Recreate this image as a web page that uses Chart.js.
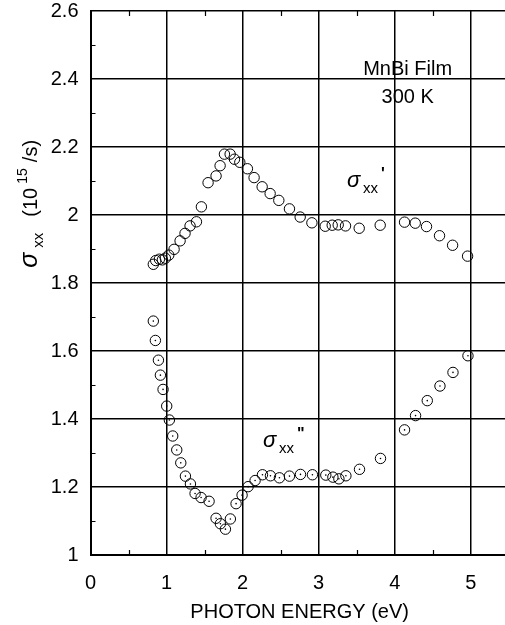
<!DOCTYPE html>
<html><head><meta charset="utf-8">
<script src="https://cdn.jsdelivr.net/npm/chart.js@4.4.1/dist/chart.umd.min.js"></script>
<style>html,body{margin:0;padding:0;background:#fff;overflow:hidden;width:505px;height:625px}canvas{display:block}</style>
</head><body>
<canvas id="c" width="515" height="625"></canvas>
<script>
// sigma_xx' (real part)
const energyReal = [0.826,0.858,0.906,0.945,0.984,1.029,1.099,1.178,1.243,1.309,1.393,1.458,1.546,1.651,1.704,1.761,1.836,1.893,1.963,2.063,2.151,2.257,2.362,2.476,2.616,2.757,2.911,3.086,3.178,3.257,3.353,3.533,3.809,4.129,4.270,4.418,4.589,4.761,4.958];
const sigmaReal  = [1.855,1.866,1.870,1.868,1.873,1.882,1.899,1.924,1.946,1.968,1.980,2.024,2.095,2.115,2.145,2.179,2.179,2.164,2.155,2.136,2.110,2.083,2.063,2.043,2.018,1.994,1.977,1.967,1.970,1.971,1.968,1.961,1.970,1.979,1.976,1.966,1.939,1.911,1.879];
// sigma_xx'' (imaginary part)
const energyImag = [0.826,0.853,0.893,0.919,0.954,1.002,1.037,1.081,1.134,1.187,1.248,1.314,1.375,1.454,1.559,1.651,1.708,1.774,1.839,1.914,1.993,2.072,2.164,2.261,2.366,2.484,2.616,2.761,2.918,3.094,3.187,3.266,3.358,3.537,3.813,4.129,4.274,4.428,4.595,4.766,4.963];
const sigmaImag  = [1.688,1.631,1.573,1.529,1.487,1.438,1.397,1.350,1.309,1.271,1.232,1.209,1.181,1.169,1.158,1.108,1.092,1.076,1.106,1.151,1.176,1.201,1.219,1.236,1.233,1.227,1.232,1.237,1.236,1.235,1.229,1.224,1.233,1.252,1.284,1.368,1.410,1.454,1.497,1.537,1.586];

const xTickValues = [0,1,2,3,4,5];
const xTickLabels = ['0','1','2','3','4','5'];
const yTickValues = [1,1.2,1.4,1.6,1.8,2,2.2,2.4,2.6];
const yTickLabels = ['1','1.2','1.4','1.6','1.8','2','2.2','2.4','2.6'];
const xMinorTicks = [0.5,1.5,2.5,3.5,4.5];
const yMinorTicks = [1.1,1.3,1.5,1.7,1.9,2.1,2.3,2.5];

const FONT = '"Liberation Sans", Arial, Helvetica, sans-serif';

const toPts = (xs, ys) => xs.map((x, i) => ({x: x, y: ys[i]}));

const annot = {
  id: 'annot',
  afterDatasetsDraw(chart) {
    const ctx = chart.ctx, xs = chart.scales.x, ys = chart.scales.y, ca = chart.chartArea;
    ctx.save();
    ctx.strokeStyle = '#000';
    ctx.lineWidth = 1.2;
    // minor ticks
    ctx.beginPath();
    xMinorTicks.forEach(v => {
      const px = Math.round(xs.getPixelForValue(v)) + 0.5;
      ctx.moveTo(px, ca.bottom); ctx.lineTo(px, ca.bottom - 5);
      ctx.moveTo(px, ca.top); ctx.lineTo(px, ca.top + 5);
    });
    yMinorTicks.forEach(v => {
      const py = Math.round(ys.getPixelForValue(v)) + 0.5;
      ctx.moveTo(ca.left, py); ctx.lineTo(ca.left + 5, py);
    });
    ctx.stroke();

    ctx.fillStyle = '#000';
    // sample label
    ctx.textAlign = 'center';
    ctx.textBaseline = 'middle';
    ctx.font = '20px ' + FONT;
    ctx.fillText('MnBi Film', xs.getPixelForValue(4.17), ys.getPixelForValue(2.427));
    ctx.fillText('300 K', xs.getPixelForValue(4.17), ys.getPixelForValue(2.347));

    // series labels
    ctx.textAlign = 'left';
    ctx.textBaseline = 'alphabetic';
    const drawLabel = (xv, yv, primes) => {
      const x0 = xs.getPixelForValue(xv), y0 = ys.getPixelForValue(yv);
      ctx.font = 'italic 22px ' + FONT;
      ctx.fillText('σ', x0, y0);
      ctx.font = '15px ' + FONT;
      ctx.fillText('xx', x0 + 16, y0 + 6);
      ctx.font = 'bold 16px ' + FONT;
      ctx.fillText(primes, x0 + 34, y0 - 8);
    };
    drawLabel(3.372, 2.083, "'");
    drawLabel(2.268, 1.319, '"');

    // y axis title
    ctx.save();
    ctx.translate(ca.left - 54, ys.getPixelForValue(1.845));
    ctx.rotate(-Math.PI / 2);
    ctx.textAlign = 'left';
    ctx.textBaseline = 'alphabetic';
    ctx.font = 'italic 25px ' + FONT;
    ctx.fillText('σ', 0, 0);
    ctx.font = '15px ' + FONT;
    ctx.fillText('xx', 20, 6);
    ctx.font = '20px ' + FONT;
    ctx.fillText('(10', 51, 0);
    ctx.font = '14px ' + FONT;
    ctx.fillText('15', 84, -10);
    ctx.font = '20px ' + FONT;
    ctx.fillText(' /s)', 100, 0);
    ctx.restore();

    ctx.restore();
  }
};

new Chart(document.getElementById('c'), {
  type: 'scatter',
  data: {
    datasets: [
      {
        label: "σxx'",
        data: toPts(energyReal, sigmaReal),
        pointStyle: 'circle', pointRadius: 5.2, pointBorderWidth: 1,
        borderColor: '#000', backgroundColor: 'rgba(0,0,0,0)', showLine: false
      },
      {
        label: "σxx''",
        data: toPts(energyImag, sigmaImag),
        pointStyle: 'circle', pointRadius: 5.2, pointBorderWidth: 1,
        borderColor: '#000', backgroundColor: 'rgba(0,0,0,0)', showLine: false
      },
      {
        label: "σxx'' centre",
        data: toPts(energyImag, sigmaImag),
        pointStyle: 'circle', pointRadius: 0.8, pointBorderWidth: 0,
        borderColor: '#000', backgroundColor: '#000', showLine: false
      }
    ]
  },
  options: {
    responsive: false,
    devicePixelRatio: 1,
    animation: false,
    events: [],
    layout: {padding: {left: 0, right: 0, top: 11, bottom: 0}},
    plugins: {legend: {display: false}, tooltip: {enabled: false}},
    scales: {
      x: {
        type: 'linear', min: 0, max: 5.5,
        afterBuildTicks: s => { s.ticks = xTickValues.map(v => ({value: v})); },
        afterFit: s => { s.height = 70; s.paddingLeft = 0; s.paddingRight = 0; },
        grid: {color: '#000', lineWidth: 1.5, drawTicks: false},
        border: {color: '#000', width: 2},
        ticks: {
          font: {family: FONT, size: 20}, color: '#000', padding: 16, maxRotation: 0,
          callback: (v, i) => xTickLabels[i]
        },
        title: {
          display: true, text: 'PHOTON ENERGY (eV)', color: '#000',
          font: {family: FONT, size: 20}, padding: {top: 0, bottom: 1}
        }
      },
      y: {
        type: 'linear', min: 1, max: 2.6,
        afterBuildTicks: s => { s.ticks = yTickValues.map(v => ({value: v})); },
        afterFit: s => { s.width = 90.5; s.paddingTop = 0; s.paddingBottom = 0; },
        grid: {color: '#000', lineWidth: 1.5, drawTicks: false},
        border: {color: '#000', width: 2},
        ticks: {
          font: {family: FONT, size: 20}, color: '#000', padding: 12,
          callback: (v, i) => yTickLabels[i]
        }
      }
    }
  },
  plugins: [annot]
});
</script>
</body></html>
